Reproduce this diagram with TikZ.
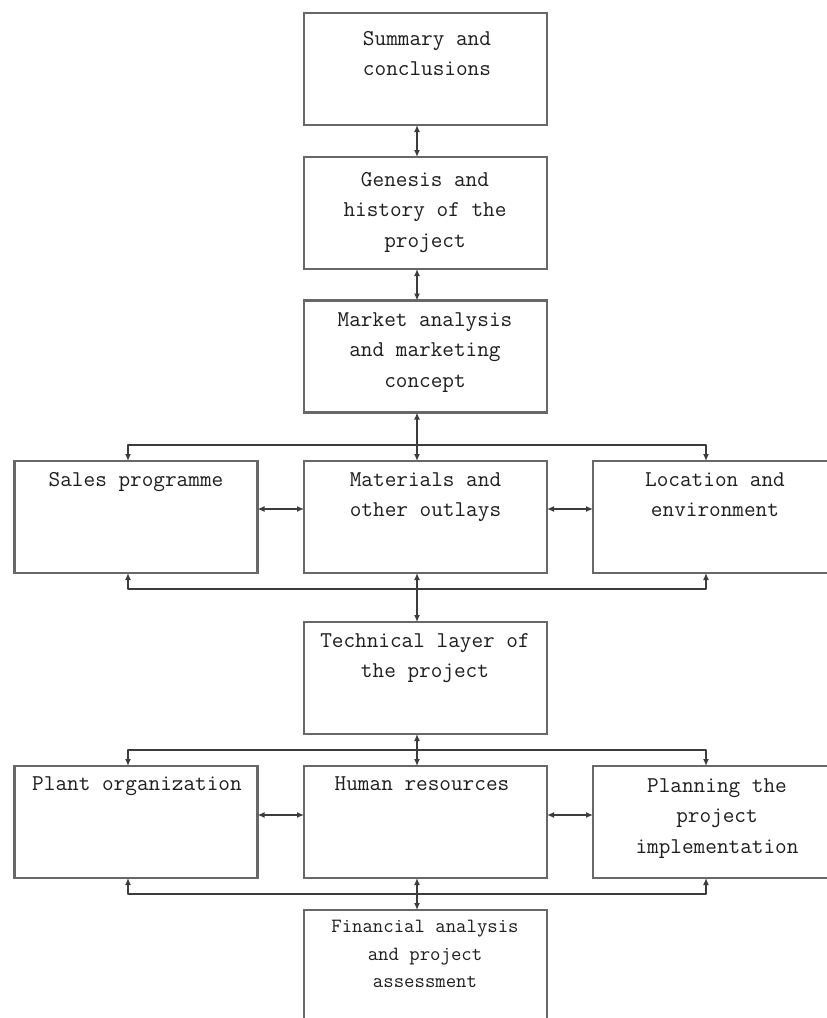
\documentclass[tikz,border=0pt]{standalone}
\usepackage{fontspec}
\usetikzlibrary{arrows.meta}
\definecolor{boxgray}{HTML}{686868}
\definecolor{conngray}{HTML}{3C3C3C}
\definecolor{textgray}{HTML}{1E1E1E}
\begin{document}
\begin{tikzpicture}[x=1pt,y=-1pt,
  box/.style={draw=boxgray, line width=2.5pt, minimum width=243pt, minimum height=112pt, inner sep=0pt, outer sep=0pt},
  txt/.style={font=\ttfamily\fontsize{22.6}{30.5}\selectfont, align=center, inner sep=0pt, anchor=north, text=textgray},
  smalltxt/.style={txt, font=\ttfamily\fontsize{20.2}{27.5}\selectfont},
  conn/.style={draw=conngray, line width=2pt, line join=round},
  tips/.style={{Latex[length=7pt,width=6pt]}-{Latex[length=7pt,width=6pt]}}
]
\useasboundingbox[fill=white] (0,0) rectangle (827,1018);

% boxes
\node[box] (sum) at (425.5,69) {};
\node[box] (gen) at (425.5,213) {};
\node[box] (mkt) at (425.5,356.5) {};
\node[box] (sal) at (136,517) {};
\node[box] (mat) at (425.5,517) {};
\node[box] (loc) at (714.5,517) {};
\node[box] (tec) at (425.5,678) {};
\node[box] (pla) at (136,822) {};
\node[box] (hum) at (425.5,822) {};
\node[box] (pln) at (714.5,822) {};
\node[box] (fin) at (425.5,966) {};

% texts
\node[txt] (sumT) at (427,31) {Summary and\\conclusions};
\node[txt] (genT) at (425,172) {Genesis and\\history of the\\project};
\node[txt] (mktT) at (425,312) {Market analysis\\and marketing\\concept};
\node[txt] (salT) at (136,472) {Sales programme};
\node[txt] (matT) at (425.5,472) {Materials and\\other outlays};
\node[txt] (locT) at (715,472) {Location and\\environment};
\node[txt] (tecT) at (425,633) {Technical layer of\\the project};
\node[txt] (plaT) at (137,776) {Plant organization};
\node[txt] (humT) at (422,776) {Human resources};
\node[txt] (plnT) at (717,778) {Planning the\\project\\implementation};
\node[smalltxt] (finT) at (425,920) {Financial analysis\\and project\\assessment};

% guide coordinates
\coordinate (cx) at (417,0);
\coordinate (busL) at (128,0);
\coordinate (busR) at (706,0);
\coordinate (bus1) at (0,445);
\coordinate (bus2) at (0,589);
\coordinate (bus3) at (0,750);
\coordinate (bus4) at (0,894);
\coordinate (row1) at (0,509);
\coordinate (row2) at (0,815);

% vertical connectors on the main column
\draw[conn,tips] (sum.south -| cx) -- (gen.north -| cx);
\draw[conn,tips] (gen.south -| cx) -- (mkt.north -| cx);
\draw[conn,tips] (mkt.south -| cx) -- (mat.north -| cx);
\draw[conn,tips] (mat.south -| cx) -- (tec.north -| cx);
\draw[conn,tips] (tec.south -| cx) -- (hum.north -| cx);
\draw[conn,tips] (hum.south -| cx) -- (fin.north -| cx);

% buses
\draw[conn,tips] (sal.north -| busL) -- (bus1 -| busL) -- (bus1 -| busR) -- (loc.north -| busR);
\draw[conn,tips] (sal.south -| busL) -- (bus2 -| busL) -- (bus2 -| busR) -- (loc.south -| busR);
\draw[conn,tips] (pla.north -| busL) -- (bus3 -| busL) -- (bus3 -| busR) -- (pln.north -| busR);
\draw[conn,tips] (pla.south -| busL) -- (bus4 -| busL) -- (bus4 -| busR) -- (pln.south -| busR);

% horizontal links
\draw[conn,tips] (sal.east |- row1) -- (mat.west |- row1);
\draw[conn,tips] (mat.east |- row1) -- (loc.west |- row1);
\draw[conn,tips] (pla.east |- row2) -- (hum.west |- row2);
\draw[conn,tips] (hum.east |- row2) -- (pln.west |- row2);
\end{tikzpicture}
\end{document}
